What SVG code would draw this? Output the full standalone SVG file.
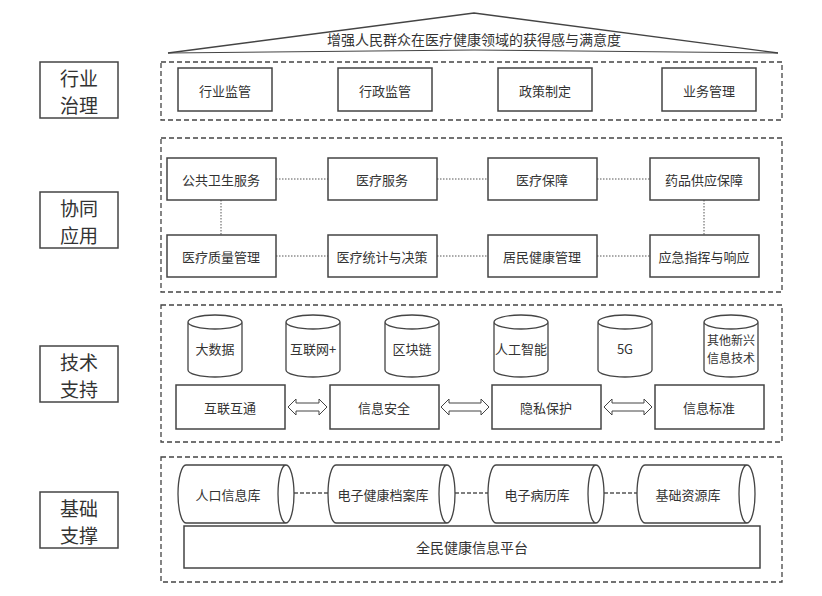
<svg xmlns="http://www.w3.org/2000/svg" width="822" height="596" viewBox="0 0 822 596">
<style>
text{font-family:"Noto Sans CJK SC","Liberation Sans",sans-serif;fill:#333;text-anchor:middle;dominant-baseline:central}
.t{font-size:13px}
.s{font-size:12px}
.big{font-size:19px}
.b{fill:#fff;stroke:#444;stroke-width:1.5}
.lay{fill:none;stroke:#444;stroke-width:1.3;stroke-dasharray:5,3}
.dot{stroke:#555;stroke-width:1;stroke-dasharray:1.5,1.5;fill:none}
.dash{stroke:#555;stroke-width:1.3;stroke-dasharray:4,2;fill:none}
.cyl{fill:#fff;stroke:#444;stroke-width:1.3}
.arr{fill:#fff;stroke:#444;stroke-width:1}
</style>
<g id="roof"><path d="M168 53 L474 13 L778 53" fill="none" stroke="#444" stroke-width="1.3"/><path d="M168 53 L474 50 L778 53" fill="none" stroke="#444" stroke-width="1"/><text x="474" y="39" style="font-size:14px">增强人民群众在医疗健康领域的获得感与满意度</text></g>
<g id="labels">
<rect class="b" x="40" y="62" width="78" height="56"/><text class="big" x="79" y="77">行业</text><text class="big" x="79" y="104">治理</text>
<rect class="b" x="40" y="192" width="78" height="56"/><text class="big" x="79" y="207">协同</text><text class="big" x="79" y="234">应用</text>
<rect class="b" x="40" y="346" width="78" height="56"/><text class="big" x="79" y="361">技术</text><text class="big" x="79" y="388">支持</text>
<rect class="b" x="40" y="492" width="78" height="56"/><text class="big" x="79" y="507">基础</text><text class="big" x="79" y="534">支撑</text>
</g>
<g id="layers">
<rect class="lay" x="161" y="62" width="621" height="58"/>
<rect class="lay" x="161" y="138" width="621" height="154"/>
<rect class="lay" x="161" y="305" width="621" height="137"/>
<rect class="lay" x="161" y="457" width="621" height="125"/>
</g>
<g id="connectors">
<path class="dot" d="M276 179H328M437 179H488M597 179H650M276 256H328M437 256H488M597 256H650M221 200V235M704 200V235"/>
<path class="dash" d="M294 493H328M455 493H488M604 493H637"/>
<g class="arr">
<path d="M288 407 L296 399 V403 H319 V399 L327 407 L319 415 V411 H296 V415 Z"/>
<path d="M441 407 L449 399 V403 H481 V399 L489 407 L481 415 V411 H449 V415 Z"/>
<path d="M604 407 L612 399 V403 H644 V399 L652 407 L644 415 V411 H612 V415 Z"/>
</g>
</g>
<g id="gov">
<rect class="b" x="178" y="68" width="94" height="43"/><text class="t" x="225" y="90">行业监管</text>
<rect class="b" x="338" y="68" width="94" height="43"/><text class="t" x="385" y="90">行政监管</text>
<rect class="b" x="498" y="68" width="94" height="43"/><text class="t" x="545" y="90">政策制定</text>
<rect class="b" x="662" y="68" width="94" height="43"/><text class="t" x="709" y="90">业务管理</text>
</g>
<g id="app">
<rect class="b" x="167" y="158" width="109" height="42"/><text class="t" x="221" y="179">公共卫生服务</text>
<rect class="b" x="328" y="158" width="109" height="42"/><text class="t" x="382" y="179">医疗服务</text>
<rect class="b" x="488" y="158" width="109" height="42"/><text class="t" x="542" y="179">医疗保障</text>
<rect class="b" x="650" y="158" width="109" height="42"/><text class="t" x="704" y="179">药品供应保障</text>
<rect class="b" x="167" y="235" width="109" height="42"/><text class="t" x="221" y="256">医疗质量管理</text>
<rect class="b" x="328" y="235" width="109" height="42"/><text class="t" x="382" y="256">医疗统计与决策</text>
<rect class="b" x="488" y="235" width="109" height="42"/><text class="t" x="542" y="256">居民健康管理</text>
<rect class="b" x="650" y="235" width="109" height="42"/><text class="t" x="704" y="256">应急指挥与响应</text>
</g>
<g id="tech">
<g transform="translate(215,0)"><path class="cyl" d="M-27 322 V370 A27 7 0 0 0 27 370 V322 A27 7 0 0 0 -27 322 A27 7 0 0 0 27 322"/><text class="t" x="0" y="348">大数据</text></g>
<g transform="translate(313,0)"><path class="cyl" d="M-27 322 V370 A27 7 0 0 0 27 370 V322 A27 7 0 0 0 -27 322 A27 7 0 0 0 27 322"/><text class="t" x="0" y="348">互联网+</text></g>
<g transform="translate(412,0)"><path class="cyl" d="M-27 322 V370 A27 7 0 0 0 27 370 V322 A27 7 0 0 0 -27 322 A27 7 0 0 0 27 322"/><text class="t" x="0" y="348">区块链</text></g>
<g transform="translate(521,0)"><path class="cyl" d="M-27 322 V370 A27 7 0 0 0 27 370 V322 A27 7 0 0 0 -27 322 A27 7 0 0 0 27 322"/><text class="t" x="0" y="348">人工智能</text></g>
<g transform="translate(625,0)"><path class="cyl" d="M-27 322 V370 A27 7 0 0 0 27 370 V322 A27 7 0 0 0 -27 322 A27 7 0 0 0 27 322"/><text class="t" x="0" y="348">5G</text></g>
<g transform="translate(731,0)"><path class="cyl" d="M-27 322 V370 A27 7 0 0 0 27 370 V322 A27 7 0 0 0 -27 322 A27 7 0 0 0 27 322"/><text class="s" x="0" y="339">其他新兴</text><text class="s" x="0" y="357">信息技术</text></g>
<rect class="b" x="176" y="385" width="109" height="44"/><text class="t" x="230" y="407">互联互通</text>
<rect class="b" x="330" y="385" width="109" height="44"/><text class="t" x="384" y="407">信息安全</text>
<rect class="b" x="492" y="385" width="109" height="44"/><text class="t" x="546" y="407">隐私保护</text>
<rect class="b" x="655" y="385" width="109" height="44"/><text class="t" x="709" y="407">信息标准</text>
</g>
<g id="base">
<path class="cyl" d="M186 465 H286 A8 29 0 0 1 286 523 H186 A8 29 0 0 1 186 465 Z M286 465 A8 29 0 0 0 286 523"/><text class="t" x="228" y="494">人口信息库</text>
<path class="cyl" d="M336 465 H447 A8 29 0 0 1 447 523 H336 A8 29 0 0 1 336 465 Z M447 465 A8 29 0 0 0 447 523"/><text class="t" x="383" y="494">电子健康档案库</text>
<path class="cyl" d="M496 465 H596 A8 29 0 0 1 596 523 H496 A8 29 0 0 1 496 465 Z M596 465 A8 29 0 0 0 596 523"/><text class="t" x="537" y="494">电子病历库</text>
<path class="cyl" d="M645 465 H747 A8 29 0 0 1 747 523 H645 A8 29 0 0 1 645 465 Z M747 465 A8 29 0 0 0 747 523"/><text class="t" x="688" y="494">基础资源库</text>
<rect class="b" x="184" y="526" width="576" height="42"/><text class="t" x="472" y="547" style="font-size:14px">全民健康信息平台</text>
</g>
</svg>
